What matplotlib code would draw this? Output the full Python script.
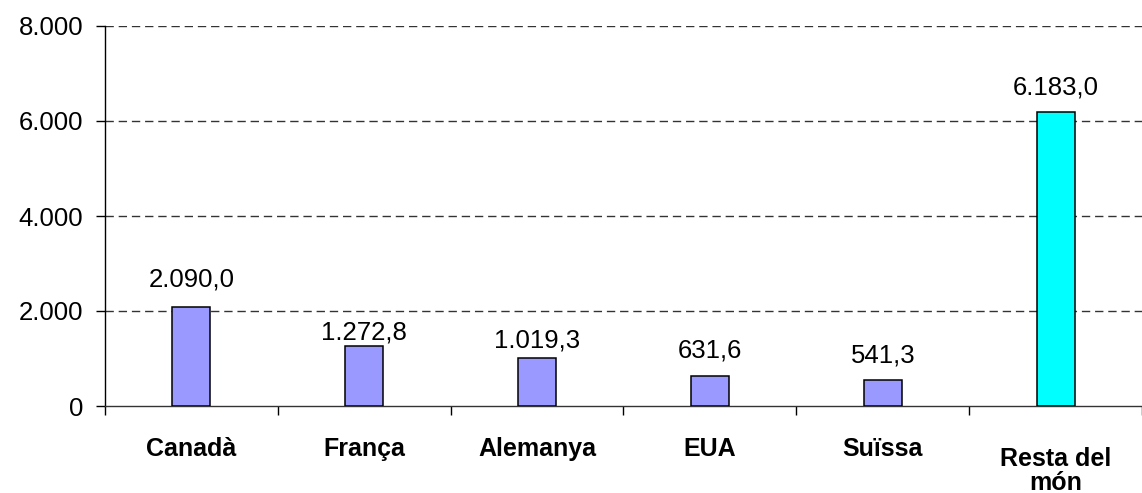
import matplotlib
matplotlib.use("Agg")
import matplotlib.pyplot as plt
import matplotlib.transforms as mtransforms
from matplotlib.ticker import FixedLocator, FuncFormatter

categories = ["Canadà", "França", "Alemanya", "EUA", "Suïssa", "Resta del\nmón"]
values = [2090.0, 1272.8, 1019.3, 631.6, 541.3, 6183.0]
yticks = [0, 2000, 4000, 6000, 8000]

bar_colors = ["#9999FF"] * 5 + ["#00FFFF"]
label_offsets_pt = [14.4, 4.3, 7.2, 13.0, 13.0, 13.0]

plt.rcParams["font.family"] = ["Liberation Sans", "DejaVu Sans"]

fig = plt.figure(figsize=(11.42, 4.93), dpi=100)
ax = fig.add_axes([105 / 1142, 87 / 493, 1 - 105 / 1142, 380 / 493])

x = list(range(len(categories)))
ax.bar(x, values, width=0.22, color=bar_colors, edgecolor="black", linewidth=1.1, zorder=3)


def fmt_num(v, dec):
    s = f"{v:,.{dec}f}"
    return s.replace(",", "X").replace(".", ",").replace("X", ".")


for xi, v, off in zip(x, values, label_offsets_pt):
    ax.annotate(fmt_num(v, 1), (xi, v), xytext=(0, off), textcoords="offset points",
                ha="center", va="baseline", fontsize=18.5)

ax.set_xlim(-0.5, 5.47)
ax.set_ylim(0, 8000)
ax.yaxis.set_major_locator(FixedLocator(yticks))
ax.yaxis.set_major_formatter(FuncFormatter(lambda v, p: fmt_num(v, 0)))
ax.tick_params(axis="y", direction="out", length=6.5, width=1, labelsize=18.5, pad=9)

ax.set_xticks(x)
ax.set_xticklabels(categories, fontsize=18, fontweight="bold", linespacing=1.0)
ax.tick_params(axis="x", which="major", length=0, pad=22)
ax.set_xticks([i - 0.5 for i in range(len(categories) + 1)], minor=True)
ax.tick_params(axis="x", which="minor", direction="out", length=6.5, width=1)

# the two-line label sits slightly lower in the reference
for lbl in ax.get_xticklabels():
    if "\n" in lbl.get_text():
        lbl.set_transform(lbl.get_transform() +
                          mtransforms.ScaledTranslation(0, -7.2 / 72, fig.dpi_scale_trans))

for t in yticks[1:]:
    ax.axhline(t, color="#333333", linewidth=1.0, linestyle=(0, (6, 3.5)), zorder=1)

ax.spines["top"].set_visible(False)
ax.spines["right"].set_visible(False)
ax.spines["left"].set_linewidth(1.0)
ax.spines["bottom"].set_linewidth(1.0)
ax.spines["bottom"].set_color("#333333")

fig.savefig("out.png", dpi=100)
